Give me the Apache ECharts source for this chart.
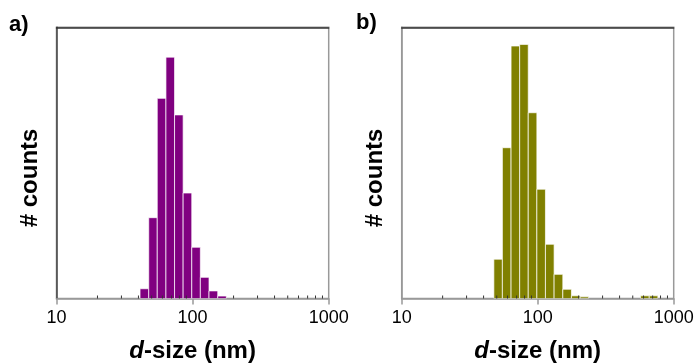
<!DOCTYPE html>
<html>
<head>
<meta charset="utf-8">
<script src="https://cdn.jsdelivr.net/npm/echarts@6/dist/echarts.min.js"></script>
<style>
html,body{margin:0;padding:0;background:#fff;}
#c{width:696px;height:364px;}
</style>
</head>
<body>
<div id="c"></div>
<script>
// Bin edges (nm), log-uniform histogram bins
var binEdgesA = [41.1, 47.6, 55.0, 63.7, 73.7, 85.2, 98.6, 114, 132, 153, 177];
var countsA   = [3.6, 29.8, 73.8, 89.0, 67.7, 38.9, 18.9, 7.8, 2.8, 0.9];

var binEdgesB = [47.6, 55.0, 63.7, 73.7, 85.2, 98.6, 114, 132, 153, 177, 205, 237];
var countsB   = [14.5, 55.6, 93.1, 93.7, 68.5, 40.3, 20.0, 8.9, 3.4, 1.0, 0.6];
var binEdgesB2 = [571, 661, 765];
var countsB2   = [1.0, 1.0];

var xTickLabels = ['10', '100', '1000'];
var minorTickValues = [20, 30, 40, 50, 60, 70, 80, 90, 200, 300, 400, 500, 600, 700, 800, 900];
var panelLabels = ['a)', 'b)'];
var xAxisTitle = 'd-size (nm)';
var yAxisTitle = '# counts';

function bins(edges, counts) {
  var out = [];
  for (var i = 0; i < counts.length; i++) out.push([edges[i], edges[i + 1], counts[i]]);
  return out;
}
var dataA = bins(binEdgesA, countsA);
var dataB = bins(binEdgesB, countsB).concat(bins(binEdgesB2, countsB2));

var FONT = 'Liberation Sans, Arial, sans-serif';

function barRender(color) {
  return function (params, api) {
    var p0 = api.coord([api.value(0), api.value(2)]);
    var p1 = api.coord([api.value(1), 0]);
    return {
      type: 'rect',
      shape: { x: p0[0], y: p0[1], width: p1[0] - p0[0], height: p1[1] - p0[1] },
      style: { fill: color, stroke: 'rgba(255,255,255,0.7)', lineWidth: 1 }
    };
  };
}
function minorRender(params, api) {
  var p = api.coord([api.value(0), 0]);
  return {
    type: 'line',
    shape: { x1: p[0], y1: p[1], x2: p[0], y2: p[1] - 3 },
    style: { stroke: '#333', lineWidth: 1 }
  };
}

var grids = [
  { left: 56.5, top: 27.3, width: 272.2, height: 271.2, show: true, borderColor: '#999', borderWidth: 1.5, containLabel: false, outerBoundsMode: 'none' },
  { left: 401.7, top: 27.3, width: 272.0, height: 271.2, show: true, borderColor: '#999', borderWidth: 1.5, containLabel: false, outerBoundsMode: 'none' }
];

var xAxes = [], yAxes = [], series = [];
[0, 1].forEach(function (g) {
  xAxes.push({
    type: 'log', logBase: 10, min: 10, max: 1000, gridIndex: g, position: 'bottom',
    name: xAxisTitle.replace(/^d/, '{i|d}'),
    nameLocation: 'middle', nameGap: 41,
    nameTextStyle: {
      fontFamily: FONT, fontSize: 24, fontWeight: 'bold', color: '#000',
      rich: { i: { fontFamily: FONT, fontSize: 24, fontWeight: 'bold', fontStyle: 'italic', color: '#000' } }
    },
    axisLine: { show: true, lineStyle: { color: '#999', width: 1.5 } },
    axisTick: { show: true, length: 6, inside: false, lineStyle: { color: '#999', width: 1.5 } },
    axisLabel: {
      fontFamily: FONT, fontSize: 18, color: '#000', margin: 11,
      formatter: function (v) { var s = String(Math.round(v)); return xTickLabels.indexOf(s) >= 0 ? s : ''; }
    },
    splitLine: { show: false }
  });
  xAxes.push({
    type: 'log', logBase: 10, min: 10, max: 1000, gridIndex: g, position: 'top',
    axisLine: { show: true, lineStyle: { color: '#333', width: 1.5 } },
    axisTick: { show: false }, axisLabel: { show: false }, splitLine: { show: false }
  });
  yAxes.push({
    type: 'value', min: 0, max: 100, gridIndex: g,
    name: yAxisTitle, nameLocation: 'middle', nameGap: 14, nameRotate: 90,
    nameTextStyle: { fontFamily: FONT, fontSize: 24, fontWeight: 'bold', color: '#000', padding: [0, 30, 0, 0] },
    axisLine: { show: true, lineStyle: { color: g === 0 ? '#444' : '#999', width: 1.5 } },
    axisTick: { show: false }, axisLabel: { show: false }, splitLine: { show: false }
  });
});

series.push({
  type: 'custom', xAxisIndex: 0, yAxisIndex: 0, renderItem: barRender('#800080'),
  encode: { x: [0, 1], y: 2 }, data: dataA, clip: true
});
series.push({
  type: 'custom', xAxisIndex: 2, yAxisIndex: 1, renderItem: barRender('#808000'),
  encode: { x: [0, 1], y: 2 }, data: dataB, clip: true
});
series.push({
  type: 'custom', xAxisIndex: 0, yAxisIndex: 0, renderItem: minorRender,
  encode: { x: 0 }, data: minorTickValues.map(function (v) { return [v]; }), z: 5
});
series.push({
  type: 'custom', xAxisIndex: 2, yAxisIndex: 1, renderItem: minorRender,
  encode: { x: 0 }, data: minorTickValues.map(function (v) { return [v]; }), z: 5
});

var chart = echarts.init(document.getElementById('c'), null, { renderer: 'canvas' });
chart.setOption({
  animation: false,
  backgroundColor: '#fff',
  grid: grids,
  xAxis: xAxes,
  yAxis: yAxes,
  series: series,
  graphic: [
    { type: 'text', left: 9, top: 14, style: { text: panelLabels[0], font: 'bold 22px ' + FONT, fill: '#000' } },
    { type: 'text', left: 356, top: 12, style: { text: panelLabels[1], font: 'bold 22px ' + FONT, fill: '#000' } }
  ]
});
</script>
</body>
</html>
